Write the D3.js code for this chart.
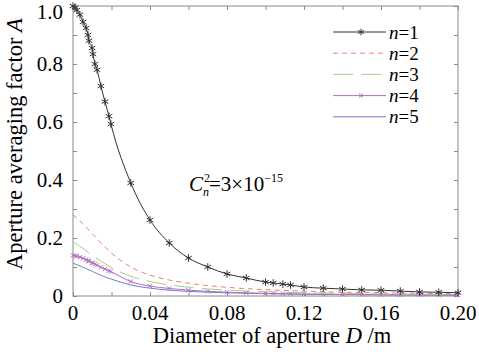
<!DOCTYPE html>
<html>
<head>
<meta charset="utf-8">
<script src="https://cdn.jsdelivr.net/npm/d3@7"></script>
<style>
  body { margin: 0; background: #fff; }
  text { font-family: "Liberation Serif", "Times New Roman", serif; }
</style>
</head>
<body>
<div id="chart"></div>
<script>
// aperture diameter (m) where the n=1 and n=4 curves are sampled
const dMarked = [0, 0.001, 0.002, 0.0036, 0.0052, 0.0068, 0.0078, 0.0083, 0.0099, 0.0104, 0.0114, 0.0125,
  0.0145, 0.0166, 0.0187, 0.0197, 0.03, 0.04, 0.05, 0.06, 0.07, 0.08, 0.09, 0.10, 0.104, 0.109, 0.113,
  0.12, 0.13, 0.14, 0.15, 0.16, 0.17, 0.18, 0.19, 0.20];
const n1 = [1.0, 0.995, 0.986, 0.97, 0.945, 0.924, 0.90, 0.88, 0.855, 0.834, 0.80, 0.78,
  0.724, 0.67, 0.62, 0.593, 0.39, 0.262, 0.183, 0.131, 0.10, 0.076, 0.062, 0.048, 0.045, 0.041, 0.038,
  0.031, 0.027, 0.024, 0.021, 0.02, 0.017, 0.014, 0.013, 0.011];
const n4 = [0.140, 0.139, 0.137, 0.134, 0.130, 0.125, 0.122, 0.120, 0.115, 0.113, 0.110, 0.106,
  0.099, 0.093, 0.087, 0.084, 0.050, 0.034, 0.026, 0.020, 0.016, 0.013, 0.011, 0.009, 0.0085, 0.008, 0.0078,
  0.007, 0.0062, 0.0055, 0.005, 0.0045, 0.004, 0.0037, 0.0034, 0.003];
// smooth curves without markers
const dPlain = [0, 0.005, 0.01, 0.015, 0.02, 0.03, 0.04, 0.05, 0.06, 0.08, 0.10, 0.12, 0.14, 0.16, 0.18, 0.20];
const n2 = [0.28, 0.25, 0.215, 0.18, 0.148, 0.10, 0.072, 0.055, 0.044, 0.030, 0.022, 0.017, 0.013, 0.011, 0.009, 0.008];
const n3 = [0.187, 0.165, 0.14, 0.118, 0.098, 0.068, 0.05, 0.038, 0.03, 0.02, 0.015, 0.011, 0.009, 0.007, 0.006, 0.005];
const n5 = [0.113, 0.10, 0.085, 0.07, 0.058, 0.038, 0.027, 0.020, 0.016, 0.011, 0.008, 0.006, 0.005, 0.004, 0.0035, 0.003];

const xTicks = [0, 0.04, 0.08, 0.12, 0.16, 0.20];
const yTicks = [0, 0.2, 0.4, 0.6, 0.8, 1.0];

const width = 479, height = 354;
const svg = d3.select("#chart").append("svg")
  .attr("width", width)
  .attr("height", height);

const x = d3.scaleLinear().domain([0, 0.2]).range([73, 458]);
const y = d3.scaleLinear().domain([0, 1]).range([296, 6]);

// frame
svg.append("rect")
  .attr("x", x(0)).attr("y", y(1))
  .attr("width", x(0.2) - x(0)).attr("height", y(0) - y(1))
  .attr("fill", "#fff").attr("stroke", "#8a8a8a").attr("stroke-width", 1);

// axes: inner ticks every 0.02 / 0.1, labels on the coarser grid
const minorX = d3.range(0, 0.2001, 0.02);
const minorY = d3.range(0, 1.0001, 0.1);

svg.append("g")
  .attr("transform", "translate(0," + y(0) + ")")
  .call(d3.axisBottom(x).tickValues(minorX).tickSizeInner(-4).tickSizeOuter(0).tickFormat(""))
  .call(g => g.select(".domain").remove())
  .selectAll("line").attr("stroke", "#8a8a8a");
svg.append("g")
  .attr("transform", "translate(0," + y(1) + ")")
  .call(d3.axisTop(x).tickValues(minorX).tickSizeInner(-4).tickSizeOuter(0).tickFormat(""))
  .call(g => g.select(".domain").remove())
  .selectAll("line").attr("stroke", "#8a8a8a");
svg.append("g")
  .attr("transform", "translate(" + x(0) + ",0)")
  .call(d3.axisLeft(y).tickValues(minorY).tickSizeInner(-4).tickSizeOuter(0).tickFormat(""))
  .call(g => g.select(".domain").remove())
  .selectAll("line").attr("stroke", "#8a8a8a");
svg.append("g")
  .attr("transform", "translate(" + x(0.2) + ",0)")
  .call(d3.axisRight(y).tickValues(minorY).tickSizeInner(-4).tickSizeOuter(0).tickFormat(""))
  .call(g => g.select(".domain").remove())
  .selectAll("line").attr("stroke", "#8a8a8a");

// tick labels
svg.append("g").selectAll("text")
  .data(xTicks).enter().append("text")
  .attr("x", d => x(d)).attr("y", 320)
  .attr("text-anchor", "middle")
  .attr("font-size", 21)
  .text(d => d === 0 ? "0" : d.toFixed(2));
svg.append("g").selectAll("text")
  .data(yTicks).enter().append("text")
  .attr("x", 63).attr("y", d => Math.max(y(d) + 7, 19))
  .attr("text-anchor", "end")
  .attr("font-size", 21)
  .text(d => d === 0 ? "0" : d.toFixed(1));

// axis titles
const xt = svg.append("text")
  .attr("x", 272).attr("y", 343)
  .attr("text-anchor", "middle").attr("font-size", 22.5);
xt.append("tspan").text("Diameter of aperture ");
xt.append("tspan").attr("font-style", "italic").text("D");
xt.append("tspan").text(" /m");

const yt = svg.append("text")
  .attr("transform", "translate(22,144) rotate(-90)")
  .attr("text-anchor", "middle").attr("font-size", 22.5);
yt.append("tspan").text("Aperture averaging factor ");
yt.append("tspan").attr("font-style", "italic").text("A");

// series
const series = [
  { name: "1", xs: dMarked, ys: n1, color: "#333", dash: null, marker: d3.symbolAsterisk },
  { name: "2", xs: dPlain, ys: n2, color: "#f0806e", dash: "5,4", marker: null },
  { name: "3", xs: dPlain, ys: n3, color: "#9fd483", dash: "20,8", marker: null },
  { name: "4", xs: dMarked, ys: n4, color: "#b46cc4", dash: null, marker: d3.symbolTimes },
  { name: "5", xs: dPlain, ys: n5, color: "#6f7fd2", dash: null, marker: null }
];

const line = d3.line()
  .x(d => x(d[0])).y(d => y(d[1]))
  .curve(d3.curveMonotoneX);

// draw back to front so n=1 ends on top
series.slice().reverse().forEach(s => {
  const pts = s.xs.map((d, i) => [d, s.ys[i]]);
  svg.append("path")
    .datum(pts)
    .attr("d", line)
    .attr("fill", "none")
    .attr("stroke", s.color)
    .attr("stroke-width", 1)
    .attr("stroke-dasharray", s.dash);
  if (s.marker) {
    svg.append("g").selectAll("path")
      .data(pts).enter().append("path")
      .attr("transform", d => "translate(" + x(d[0]) + "," + y(d[1]) + ")")
      .attr("d", d3.symbol().type(s.marker).size(s.marker === d3.symbolAsterisk ? 40 : 14))
      .attr("fill", "none")
      .attr("stroke", s.color)
      .attr("stroke-width", 1);
  }
});

// legend
const legend = svg.append("g");
series.forEach((s, i) => {
  const ly = 32 + i * 21.2;
  legend.append("line")
    .attr("x1", 333).attr("x2", 386).attr("y1", ly).attr("y2", ly)
    .attr("stroke", s.color).attr("stroke-width", 1)
    .attr("stroke-dasharray", s.dash);
  if (s.marker) {
    legend.append("path")
      .attr("transform", "translate(361," + ly + ")")
      .attr("d", d3.symbol().type(s.marker).size(s.marker === d3.symbolAsterisk ? 30 : 12))
      .attr("fill", "none").attr("stroke", s.color);
  }
  const t = legend.append("text")
    .attr("x", 389).attr("y", ly + 6.5).attr("font-size", 19);
  t.append("tspan").attr("font-style", "italic").text("n");
  t.append("tspan").text("=" + s.name);
});

// C_n^2 annotation
const ann = svg.append("text").attr("x", 189).attr("y", 191).attr("font-size", 21);
ann.append("tspan").attr("font-style", "italic").text("C");
ann.append("tspan").attr("font-size", 12).attr("dy", -9).attr("dx", 1).text("2");
ann.append("tspan").attr("font-size", 12).attr("font-style", "italic").attr("dy", 14).attr("dx", -7).text("n");
ann.append("tspan").attr("dy", -5).text("=3×10");
ann.append("tspan").attr("font-size", 12).attr("dy", -9).text("−15");
</script>
</body>
</html>
